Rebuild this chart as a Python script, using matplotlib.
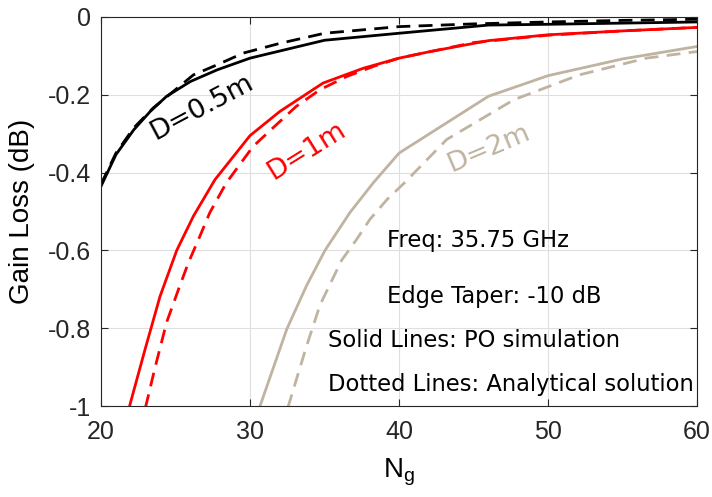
import matplotlib
matplotlib.use("Agg")
import matplotlib.pyplot as plt

# Gain loss vs. number of grid elements, three reflector sizes
# solid = PO simulation, dashed = analytical solution
x_05_po = [20, 21, 22.2, 23.3, 24.4, 26, 27.8, 30, 35, 40, 46, 50, 55, 60]
y_05_po = [-0.435, -0.354, -0.290, -0.243, -0.204, -0.166, -0.136, -0.106, -0.060, -0.042, -0.021, -0.019, -0.016, -0.013]
x_05_an = [20, 21, 22.2, 23.5, 26.2, 27.8, 29.55, 32, 35, 40, 45, 50, 55, 60]
y_05_an = [-0.43, -0.35, -0.285, -0.234, -0.149, -0.123, -0.093, -0.068, -0.042, -0.025, -0.018, -0.013, -0.009, -0.006]

x_1_po = [21.5, 21.95, 22.95, 23.96, 25.08, 26.2, 27.65, 30, 32, 34.9, 37.6, 40, 42.1, 46, 50, 55, 60]
y_1_po = [-1.07, -0.995, -0.855, -0.718, -0.600, -0.512, -0.418, -0.305, -0.243, -0.170, -0.132, -0.106, -0.089, -0.061, -0.046, -0.036, -0.027]
x_1_an = [22.6, 23.07, 23.6, 24.4, 25.2, 25.86, 26.64, 27.3, 28.4, 30.2, 31.6, 33.1, 34.7, 36.5, 38.3, 40, 45, 50, 55, 60]
y_1_an = [-1.06, -0.99, -0.905, -0.785, -0.700, -0.632, -0.563, -0.503, -0.427, -0.333, -0.283, -0.230, -0.187, -0.153, -0.127, -0.106, -0.066, -0.047, -0.036, -0.027]

x_2_po = [30.3, 30.67, 32.46, 33.8, 35.03, 36.7, 38.3, 40, 46, 50, 55, 60]
y_2_po = [-1.06, -1.0, -0.803, -0.690, -0.600, -0.503, -0.425, -0.350, -0.204, -0.151, -0.108, -0.076]
x_2_an = [32.2, 32.57, 33.8, 34.7, 36.15, 37.15, 38.05, 39.2, 40.4, 43.2, 47.7, 52.1, 56.6, 60]
y_2_an = [-1.06, -1.0, -0.845, -0.740, -0.625, -0.572, -0.520, -0.469, -0.425, -0.315, -0.213, -0.149, -0.106, -0.089]

x_ticks = [20, 30, 40, 50, 60]
y_ticks = [-1, -0.8, -0.6, -0.4, -0.2, 0]

BLACK = "#000000"
RED = "#ff0000"
TAN = "#bfb3a1"
AX_COL = "#262626"

plt.rcParams["axes.unicode_minus"] = False

fig = plt.figure(figsize=(7.12, 4.97), dpi=100)
ax = fig.add_axes([0.1419, 0.183, 0.8371, 0.783])

lw = 2.0
dash = (0, (5, 3))
for xs, ys, c in [(x_05_po, y_05_po, BLACK), (x_1_po, y_1_po, RED), (x_2_po, y_2_po, TAN)]:
    ax.plot(xs, ys, color=c, lw=lw, solid_joinstyle="round")
for xs, ys, c in [(x_05_an, y_05_an, BLACK), (x_1_an, y_1_an, RED), (x_2_an, y_2_an, TAN)]:
    ax.plot(xs, ys, color=c, lw=lw, linestyle=dash)

ax.set_xlim(20, 60)
ax.set_ylim(-1, 0)
ax.set_xticks(x_ticks)
ax.set_yticks(y_ticks)
ax.set_xticklabels([f"{v:g}" for v in x_ticks])
ax.set_yticklabels([f"{v:g}" for v in y_ticks])

ax.grid(True, color="#dfdfdf", lw=0.8)
ax.set_axisbelow(True)
for s in ax.spines.values():
    s.set_color(AX_COL)
    s.set_linewidth(0.8)

tick_font = "Liberation Sans"
ax.tick_params(direction="in", length=5, width=0.8, color=AX_COL,
               top=True, right=True, labelsize=18, labelcolor=AX_COL)
ax.tick_params(axis="x", pad=10)
ax.tick_params(axis="y", pad=7)
for lab in ax.get_xticklabels() + ax.get_yticklabels():
    lab.set_fontfamily(tick_font)

ax.set_ylabel("Gain Loss (dB)", fontsize=20, family=tick_font, color="#000000")
ax.yaxis.set_label_coords(-0.111, 0.5)
ax.set_xlabel("N$_\\mathregular{g}$", fontsize=20, family=tick_font, color="#000000")
ax.xaxis.set_label_coords(0.5, -0.13)

# curve labels
ax.text(26.8, -0.233, "D=0.5m", color=BLACK, fontsize=19.5, rotation=28,
        ha="center", va="center", rotation_mode="anchor")
ax.text(33.8, -0.345, "D=1m", color=RED, fontsize=19.5, rotation=32,
        ha="center", va="center", rotation_mode="anchor")
ax.text(46.0, -0.337, "D=2m", color=TAN, fontsize=19.5, rotation=23,
        ha="center", va="center", rotation_mode="anchor")

# simulation notes
notes = [
    (39.2, -0.574, "Freq: 35.75 GHz"),
    (39.2, -0.718, "Edge Taper: -10 dB"),
    (35.2, -0.832, "Solid Lines: PO simulation"),
    (35.2, -0.944, "Dotted Lines: Analytical solution"),
]
for xt, yt, s in notes:
    ax.text(xt, yt, s, fontsize=16.3, ha="left", va="center", color="#000000")

fig.savefig("out.png", dpi=100)
